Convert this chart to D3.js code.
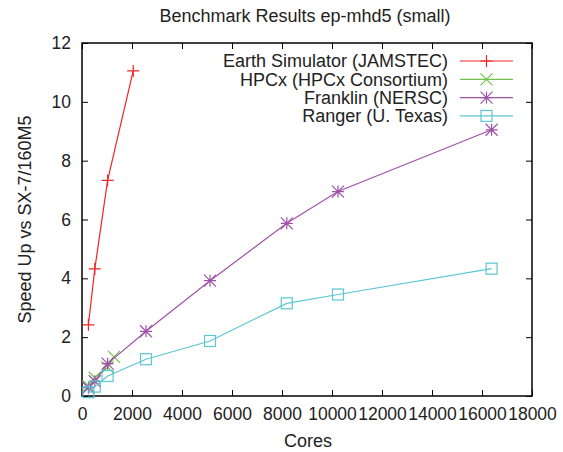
<!DOCTYPE html>
<meta charset="utf-8">
<script src="https://d3js.org/d3.v7.min.js"></script>
<style>
  body { margin: 0; background: #fff; }
  text { font-family: "Liberation Sans", Arial, sans-serif; fill: #222; }
</style>
<div id="chart"></div>
<script>
// data
var seriesNames = ["Earth Simulator (JAMSTEC)", "HPCx (HPCx Consortium)", "Franklin (NERSC)", "Ranger (U. Texas)"];
var esCores = [256, 512, 1024, 2048];
var esSpeed = [2.42, 4.32, 7.33, 11.05];
var hpcxCores = [256, 512, 1024, 1280];
var hpcxSpeed = [0.33, 0.62, 0.98, 1.33];
var franklinCores = [256, 512, 1024, 2560, 5120, 8192, 10240, 16384];
var franklinSpeed = [0.28, 0.5, 1.1, 2.2, 3.92, 5.87, 6.95, 9.05];
var rangerCores = [256, 512, 1024, 2560, 5120, 8192, 10240, 16384];
var rangerSpeed = [0.13, 0.32, 0.68, 1.25, 1.87, 3.15, 3.45, 4.33];
var xTicks = [0, 2000, 4000, 6000, 8000, 10000, 12000, 14000, 16000, 18000];
var yTicks = [0, 2, 4, 6, 8, 10, 12];

var colors = ["#f22424", "#70c04a", "#a052a8", "#5cc6d2"];
var markers = ["plus", "cross", "star", "square"];

var W = 563, H = 452;
var margin = {top: 43, right: 31, bottom: 56, left: 82};
var width = W - margin.left - margin.right,
    height = H - margin.top - margin.bottom;

var svg = d3.select("#chart").append("svg")
    .attr("width", W).attr("height", H);
var g = svg.append("g")
    .attr("transform", "translate(" + margin.left + "," + margin.top + ")");

var x = d3.scaleLinear().domain([0, 18000]).range([0, width]);
var y = d3.scaleLinear().domain([0, 12]).range([height, 0]);

// axes with inward ticks, mirrored on top and right
g.append("g")
  .attr("transform", "translate(0," + height + ")")
  .call(d3.axisBottom(x).tickValues(xTicks).tickSize(-6).tickPadding(12).tickFormat(d3.format("d")))
  .call(function(a) { a.selectAll("text").style("font-size", "17.5px"); });
g.append("g")
  .call(d3.axisTop(x).tickValues(xTicks).tickSize(-6).tickFormat(""));
g.append("g")
  .call(d3.axisLeft(y).tickValues(yTicks).tickSize(-6).tickPadding(11))
  .call(function(a) { a.selectAll("text").style("font-size", "17.5px"); });
g.append("g")
  .attr("transform", "translate(" + width + ",0)")
  .call(d3.axisRight(y).tickValues(yTicks).tickSize(-6).tickFormat(""));
g.selectAll(".domain").remove();
g.selectAll(".tick line").attr("stroke", "#000");

g.append("rect")
  .attr("width", width).attr("height", height)
  .attr("fill", "none").attr("stroke", "#000").attr("stroke-width", 1.5);

function marker(sel, type, color) {
  var s = 6;
  if (type === "plus") {
    sel.append("path").attr("d", "M" + -s + ",0H" + s + "M0," + -s + "V" + s);
  } else if (type === "cross") {
    sel.append("path").attr("d", "M" + -s + "," + -s + "L" + s + "," + s + "M" + -s + "," + s + "L" + s + "," + -s);
  } else if (type === "star") {
    sel.append("path").attr("d", "M" + -s + ",0H" + s + "M0," + -s + "V" + s +
      "M" + -s + "," + -s + "L" + s + "," + s + "M" + -s + "," + s + "L" + s + "," + -s);
  } else {
    sel.append("rect").attr("x", -s + 0.5).attr("y", -s + 0.5)
      .attr("width", 2 * s - 1).attr("height", 2 * s - 1).attr("fill", "none");
  }
  sel.selectAll("path, rect").attr("stroke", color).attr("stroke-width", 1.2);
}

var allSeries = [
  {cores: esCores, speed: esSpeed},
  {cores: hpcxCores, speed: hpcxSpeed},
  {cores: franklinCores, speed: franklinSpeed},
  {cores: rangerCores, speed: rangerSpeed}
];

var line = d3.line()
  .x(function(d) { return x(d[0]); })
  .y(function(d) { return y(d[1]); });

// legend
var legend = g.append("g");
seriesNames.forEach(function(name, i) {
  var ly = 18 + i * 18.3;
  legend.append("text")
    .attr("x", 366).attr("y", ly).attr("dy", "0.35em")
    .attr("text-anchor", "end").style("font-size", "18px").text(name);
  legend.append("line")
    .attr("x1", 378).attr("x2", 431).attr("y1", ly).attr("y2", ly)
    .attr("stroke", colors[i]).attr("stroke-width", 1.2);
  legend.append("g").attr("transform", "translate(404.5," + ly + ")")
    .call(marker, markers[i], colors[i]);
});

allSeries.forEach(function(s, i) {
  var pts = s.cores.map(function(c, j) { return [c, s.speed[j]]; });
  g.append("path").datum(pts)
    .attr("d", line).attr("fill", "none")
    .attr("stroke", colors[i]).attr("stroke-width", 1.2);
  g.selectAll(null).data(pts).enter().append("g")
    .attr("transform", function(d) { return "translate(" + x(d[0]) + "," + y(d[1]) + ")"; })
    .each(function() { d3.select(this).call(marker, markers[i], colors[i]); });
});

// titles
svg.append("text")
  .attr("x", margin.left + width / 2 - 2).attr("y", 22)
  .attr("text-anchor", "middle").style("font-size", "18px")
  .text("Benchmark Results ep-mhd5 (small)");
svg.append("text")
  .attr("x", margin.left + width / 2 + 1).attr("y", 447)
  .attr("text-anchor", "middle").style("font-size", "18px")
  .text("Cores");
svg.append("text")
  .attr("transform", "translate(31," + (margin.top + height / 2) + ") rotate(-90)")
  .attr("text-anchor", "middle").style("font-size", "18px")
  .text("Speed Up vs SX-7/160M5");
</script>
